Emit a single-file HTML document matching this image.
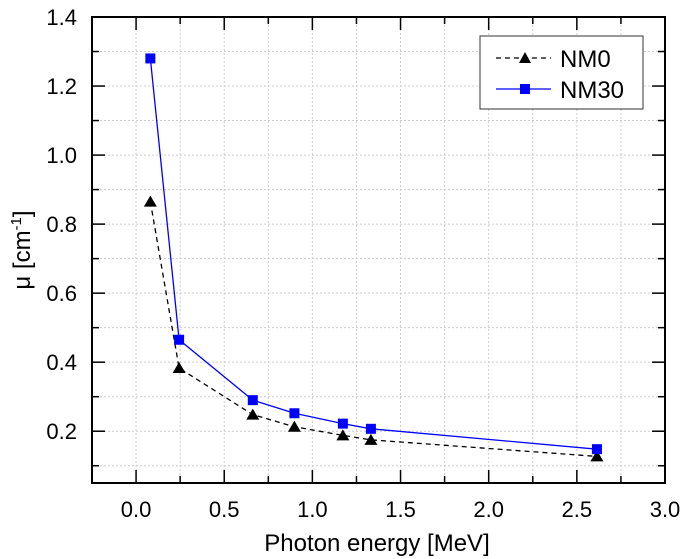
<!DOCTYPE html>
<html><head><meta charset="utf-8"><style>body{margin:0;background:#fff}svg{display:block;font-family:"Liberation Sans",Arial,sans-serif}</style></head>
<body>
<svg id="c" width="685" height="559" viewBox="0 0 685 559">
<g id="grid"></g>
<g id="series"></g>
<g id="axes"></g>
<text x="377" y="551" font-size="24" text-anchor="middle">Photon energy [MeV]</text>
<text transform="translate(30,250) rotate(-90)" font-size="24" text-anchor="middle">μ [cm<tspan dy="-9" font-size="15">-1</tspan><tspan dy="9">]</tspan></text>
<g>
<rect x="480" y="36" width="163" height="73" fill="#fff" stroke="#333" stroke-width="1"/>
<g>
<line x1="496" y1="58" x2="551" y2="58" stroke="#000" stroke-width="1.3" stroke-dasharray="5,4"/>
<polygon points="525,52 531,63 519,63" fill="#000"/>
<text x="560" y="67" font-size="24">NM0</text></g>
<g>
<line x1="496" y1="89" x2="551" y2="89" stroke="#0000ff" stroke-width="1.3"/>
<rect x="520" y="84" width="10" height="10" fill="#0000ff"/>
<text x="560" y="98" font-size="24">NM30</text></g>
</g>
</svg>
<script>
const energies=[0.081,0.244,0.662,0.898,1.173,1.332,2.614];
const nm0=[0.865,0.383,0.248,0.213,0.188,0.175,0.127];
const nm30=[1.28,0.465,0.29,0.252,0.222,0.207,0.148];
const xTicks=["0.0","0.5","1.0","1.5","2.0","2.5","3.0"];
const yTicks=["0.2","0.4","0.6","0.8","1.0","1.2","1.4"];
const L=92,R=665,T=17,B=483,X0=-0.25,X1=3.0,Y0=0.05,Y1=1.4;
const sx=v=>L+(v-X0)/(X1-X0)*(R-L), sy=v=>B-(v-Y0)/(Y1-Y0)*(B-T);
const NS="http://www.w3.org/2000/svg";
function mk(p,t,a){const e=document.createElementNS(NS,t);for(const k in a)e.setAttribute(k,a[k]);p.appendChild(e);return e;}
const g=document.getElementById('grid'),ax=document.getElementById('axes'),s=document.getElementById('series');
for(let i=-1;i<=12;i++){const v=i*0.25;const x=sx(v);if(x<=L+1||x>=R-1)continue;
 const l=mk(g,'line',{x1:x,x2:x,y1:T,y2:B,stroke:'#ccc','stroke-dasharray':'2,2','stroke-width':1});
 
 
 const len=i%2===0?13:7;
 mk(ax,'line',{x1:x,x2:x,y1:B,y2:B-len,stroke:'#000','stroke-width':1.5});
 mk(ax,'line',{x1:x,x2:x,y1:T,y2:T+len,stroke:'#000','stroke-width':1.5});}
for(let i=1;i<=13;i++){const v=i*0.1;const y=sy(v);
 const l=mk(g,'line',{x1:L,x2:R,y1:y,y2:y,stroke:'#ccc','stroke-dasharray':'2,2','stroke-width':1});
 
 
 const len=i%2===0?13:7;
 mk(ax,'line',{x1:L,x2:L+len,y1:y,y2:y,stroke:'#000','stroke-width':1.5});
 mk(ax,'line',{x1:R,x2:R-len,y1:y,y2:y,stroke:'#000','stroke-width':1.5});}
xTicks.forEach(t=>{const e=mk(ax,'text',{x:sx(+t),y:517,'font-size':22,'text-anchor':'middle'});e.textContent=t;
 
 });
yTicks.forEach(t=>{const e=mk(ax,'text',{x:77,y:sy(+t)+8,'font-size':22,'text-anchor':'end'});e.textContent=t;
 
 });
const fr=mk(ax,'rect',{x:L,y:T,width:R-L,height:B-T,fill:'none',stroke:'#000','stroke-width':2});


const p0=mk(s,'polyline',{points:energies.map((e,i)=>sx(e)+','+sy(nm0[i])).join(' '),fill:'none',stroke:'#000','stroke-width':1.3,'stroke-dasharray':'5,4'});


const p1=mk(s,'polyline',{points:energies.map((e,i)=>sx(e)+','+sy(nm30[i])).join(' '),fill:'none',stroke:'#0000ff','stroke-width':1.3});


energies.forEach((e,i)=>{const x=sx(e),y=sy(nm0[i]);
 const m=mk(s,'polygon',{points:`${x},${y-6} ${x+6.5},${y+5} ${x-6.5},${y+5}`,fill:'#000'});
 
 
 const y2=sy(nm30[i]);
 const r=mk(s,'rect',{x:x-5,y:y2-5,width:10,height:10,fill:'#0000ff'});
 
 });
</script>
</body></html>
